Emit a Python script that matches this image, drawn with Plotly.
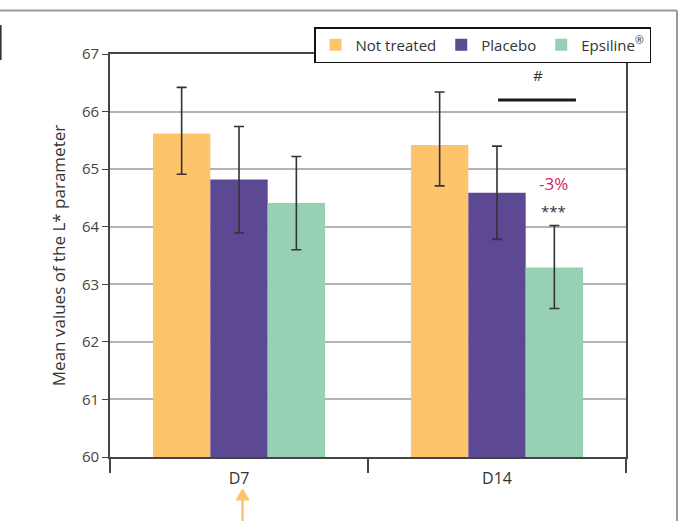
import plotly.graph_objects as go

categories = ["D7", "D14"]
series_names = ["Not treated", "Placebo", "Epsiline<sup>®</sup>"]
colors = ["#fdc46c", "#5d4893", "#98d0b4"]
means = {
    "Not treated": [65.62, 65.42],
    "Placebo": [64.82, 64.59],
    "Epsiline<sup>®</sup>": [64.41, 63.29],
}
err_plus = {
    "Not treated": [0.80, 0.92],
    "Placebo": [0.92, 0.81],
    "Epsiline<sup>®</sup>": [0.81, 0.73],
}
err_minus = {
    "Not treated": [0.71, 0.71],
    "Placebo": [0.93, 0.81],
    "Epsiline<sup>®</sup>": [0.81, 0.71],
}
y_ticks = [60, 61, 62, 63, 64, 65, 66, 67]

FONT = "'Open Sans', Lato, sans-serif"
fig = go.Figure()
for name, col in zip(series_names, colors):
    fig.add_trace(go.Bar(
        x=categories, y=means[name], name=name,
        marker=dict(color=col, line=dict(width=0)),
        error_y=dict(type="data", symmetric=False, array=err_plus[name],
                     arrayminus=err_minus[name], color="#333333",
                     thickness=1.6, width=5),
    ))

# helper conversions from pixel to paper
L, R, T, B = 110, 626, 54, 457
def px(xp):
    return (xp - L) / (R - L)
def py(yp):
    return (B - yp) / (B - T)

ax_x = 242.5
arrow_path = (f"M {px(ax_x - 6.5)},{py(500)} L {px(ax_x)},{py(489)} "
              f"L {px(ax_x + 6.5)},{py(500)} Z")

shapes = [
    # significance line
    dict(type="line", xref="x", yref="y", x0=1.004, x1=1.306, y0=66.2, y1=66.2,
         line=dict(color="#1a1a1a", width=3)),
    # outer frame
    dict(type="line", xref="paper", yref="paper", x0=px(0), x1=px(677), y0=py(10.5), y1=py(10.5),
         line=dict(color="#999999", width=2)),
    dict(type="line", xref="paper", yref="paper", x0=px(677), x1=px(677), y0=py(10.5), y1=py(530),
         line=dict(color="#999999", width=2)),
    dict(type="line", xref="paper", yref="paper", x0=px(0.8), x1=px(0.8), y0=py(25), y1=py(60),
         line=dict(color="#333333", width=1.6)),
    # orange arrow below D7
    dict(type="line", xref="paper", yref="paper", x0=px(ax_x), x1=px(ax_x), y0=py(521), y1=py(497),
         line=dict(color="#fdc46c", width=2.5)),
    dict(type="path", xref="paper", yref="paper", path=arrow_path,
         fillcolor="#fdc46c", line=dict(color="#fdc46c", width=1)),
]

annotations = [
    dict(text="#", xref="x", yref="y", x=1.159, y=66.63, showarrow=False,
         font=dict(size=15, color="#333333", family=FONT)),
    dict(text="-3%", xref="x", yref="y", x=1.22, y=64.75, showarrow=False,
         font=dict(size=17, color="#d6245a", family=FONT)),
    dict(text="***", xref="x", yref="y", x=1.22, y=64.27, showarrow=False,
         font=dict(size=15, color="#333333", family=FONT)),
]

fig.update_layout(
    width=683, height=521,
    margin=dict(l=L, r=683 - R, t=T, b=521 - B, pad=0),
    paper_bgcolor="white", plot_bgcolor="white",
    barmode="group", bargap=0.333, bargroupgap=0,
    font=dict(family=FONT, color="#333333", size=14),
    showlegend=True,
    legend=dict(orientation="h", x=px(651), y=py(27), xanchor="right", yanchor="top",
                bgcolor="white", bordercolor="#111111", borderwidth=1.5,
                font=dict(size=15, color="#333333", family=FONT),
                itemwidth=30, tracegroupgap=0),
    shapes=shapes, annotations=annotations,
    xaxis=dict(type="category", showline=True, linecolor="#444444", linewidth=1.8,
               mirror=True, ticks="outside", tickson="boundaries", ticklen=14,
               tickcolor="#444444", tickwidth=1.5, showgrid=False, automargin=False,
               ticklabelstandoff=6,
               tickfont=dict(size=16, color="#333333")),
    yaxis=dict(range=[60, 67], tickvals=y_ticks, showline=True, linecolor="#444444",
               linewidth=1.8, mirror=True, ticks="outside", ticklen=6,
               tickcolor="#444444", tickwidth=1.2, showgrid=True, gridcolor="#b3b3b3",
               gridwidth=1.5, zeroline=False, automargin=False,
               tickfont=dict(size=15, color="#444444"),
               title=dict(text="Mean values of the L* parameter", standoff=12,
                          font=dict(size=17, color="#333333"))),
)

fig.write_html("out.html", config={"displayModeBar": False},
               post_script="document.body.style.margin='0';")
